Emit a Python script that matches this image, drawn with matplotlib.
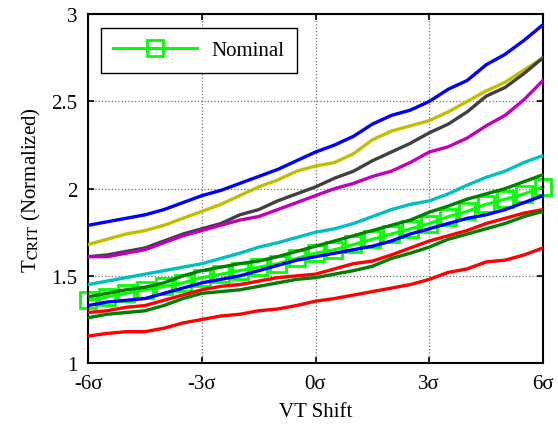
import matplotlib.pyplot as plt
import numpy as np

plt.rcParams['font.family'] = ['Liberation Serif', 'DejaVu Serif']
plt.rcParams['mathtext.fontset'] = 'stix'

# VT shift in sigma, 0.5 sigma steps
shift = np.arange(-6, 6.01, 0.5)

blue_top = [1.79, 1.81, 1.83, 1.85, 1.88, 1.92, 1.96, 1.99, 2.03, 2.07, 2.11, 2.16, 2.21,
            2.25, 2.30, 2.37, 2.42, 2.45, 2.50, 2.57, 2.62, 2.71, 2.77, 2.85, 2.94]
yellow = [1.68, 1.71, 1.74, 1.76, 1.79, 1.83, 1.87, 1.91, 1.96, 2.01, 2.05, 2.10, 2.13,
          2.15, 2.20, 2.28, 2.33, 2.36, 2.39, 2.44, 2.50, 2.56, 2.61, 2.68, 2.75]
gray = [1.61, 1.62, 1.64, 1.66, 1.70, 1.74, 1.77, 1.80, 1.85, 1.88, 1.93, 1.97, 2.01,
        2.06, 2.10, 2.16, 2.21, 2.26, 2.32, 2.37, 2.44, 2.53, 2.58, 2.66, 2.75]
magenta = [1.61, 1.61, 1.63, 1.65, 1.69, 1.73, 1.76, 1.79, 1.82, 1.84, 1.88, 1.92, 1.96,
           2.00, 2.03, 2.07, 2.10, 2.15, 2.21, 2.24, 2.29, 2.36, 2.42, 2.51, 2.62]
cyan = [1.45, 1.47, 1.49, 1.51, 1.53, 1.55, 1.57, 1.60, 1.63, 1.665, 1.69, 1.72, 1.75,
        1.77, 1.80, 1.84, 1.88, 1.91, 1.93, 1.97, 2.02, 2.065, 2.10, 2.15, 2.19]
green_up = [1.38, 1.40, 1.42, 1.435, 1.46, 1.50, 1.53, 1.55, 1.57, 1.585, 1.61, 1.64, 1.67,
            1.70, 1.73, 1.76, 1.79, 1.82, 1.865, 1.90, 1.94, 1.97, 2.00, 2.04, 2.08]
nominal = [1.36, 1.38, 1.40, 1.42, 1.44, 1.46, 1.49, 1.51, 1.53, 1.55, 1.57, 1.60, 1.63,
           1.65, 1.68, 1.71, 1.74, 1.77, 1.80, 1.84, 1.87, 1.91, 1.94, 1.97, 2.01]
blue_low = [1.33, 1.35, 1.36, 1.37, 1.40, 1.43, 1.46, 1.48, 1.50, 1.53, 1.56, 1.59, 1.61,
            1.63, 1.65, 1.67, 1.70, 1.74, 1.77, 1.80, 1.83, 1.85, 1.88, 1.92, 1.96]
red_up = [1.29, 1.30, 1.32, 1.33, 1.36, 1.39, 1.42, 1.44, 1.45, 1.47, 1.49, 1.50, 1.51,
          1.54, 1.57, 1.585, 1.62, 1.66, 1.70, 1.73, 1.76, 1.80, 1.83, 1.86, 1.88]
green_low = [1.26, 1.28, 1.29, 1.30, 1.33, 1.37, 1.40, 1.41, 1.42, 1.44, 1.46, 1.48, 1.49,
             1.51, 1.53, 1.555, 1.60, 1.63, 1.665, 1.71, 1.74, 1.77, 1.80, 1.84, 1.87]
red_low = [1.155, 1.17, 1.18, 1.18, 1.20, 1.23, 1.25, 1.27, 1.28, 1.30, 1.31, 1.33, 1.355,
           1.37, 1.39, 1.41, 1.43, 1.45, 1.48, 1.52, 1.54, 1.58, 1.59, 1.62, 1.66]

xticks = [-6, -3, 0, 3, 6]
xticklabels = ['-6σ', '-3σ', '0σ', '3σ', '6σ']
yticks = [1, 1.5, 2, 2.5, 3]
yticklabels = ['1', '1.5', '2', '2.5', '3']

fig = plt.figure(figsize=(5.58, 4.35), dpi=100)
ax = fig.add_axes([0.158, 0.163, 0.815, 0.802])

ax.plot(shift, nominal, color='#00ff00', lw=2.2, marker='s', ms=11,
        mfc='none', mec='#00ff00', mew=2, clip_on=False, label='Nominal', zorder=2)

others = [(blue_top, '#0000ff'), (yellow, '#bfbf00'), (gray, '#404040'),
          (magenta, '#bf00bf'), (cyan, '#00bfbf'), (green_up, '#007f00'),
          (blue_low, '#0000ff'), (red_up, '#ff0000'), (green_low, '#007f00'),
          (red_low, '#ff0000')]
for vals, c in others:
    ax.plot(shift, vals, color=c, lw=2.4, zorder=3)

ax.set_xlim(-6, 6)
ax.set_ylim(1, 3)
ax.set_xticks(xticks)
ax.set_xticklabels(xticklabels)
ax.set_yticks(yticks)
ax.set_yticklabels(yticklabels)
ax.tick_params(direction='in', top=True, right=True, labelsize=15, length=4, width=1.2, pad=8)
ax.grid(True, color='#707070', ls=':', lw=0.9)
for s in ax.spines.values():
    s.set_linewidth(1.5)

ax.set_xlabel('VT Shift', fontsize=15, labelpad=6)
ax.set_ylabel(r'T$_{\mathrm{CRIT}}$ (Normalized)', fontsize=15, labelpad=6)

leg = ax.legend(loc='upper left', bbox_to_anchor=(0.028, 0.96), borderaxespad=0,
                fontsize=15, fancybox=False, framealpha=1, edgecolor='black',
                handlelength=4.0, handletextpad=0.7, borderpad=0.6)
leg.get_frame().set_linewidth(1.0)

fig.savefig('out.png', dpi=100)
